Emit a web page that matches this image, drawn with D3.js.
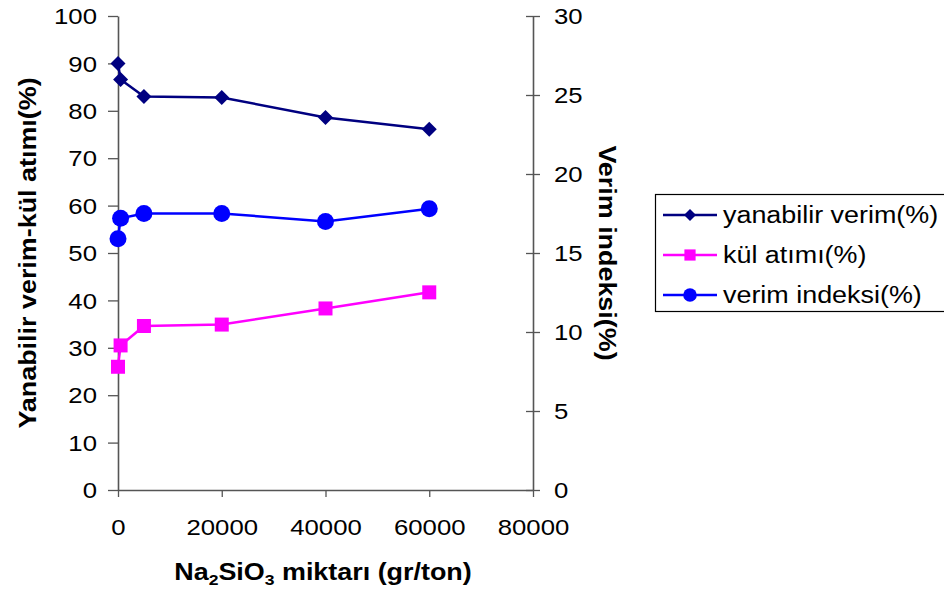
<!DOCTYPE html>
<html><head><meta charset="utf-8">
<script src="https://cdn.jsdelivr.net/npm/d3@7"></script>
<style>body{margin:0;background:#fff}svg{display:block}text{font-family:Arial,"Liberation Sans",sans-serif;fill:#000}</style>
</head><body>
<svg id="c" width="944" height="595"></svg>
<script>
const xValues = [0, 500, 5000, 20000, 40000, 60000];
const yanabilirVerim = [90.0, 86.6, 83.0, 82.8, 78.6, 76.1];
const kulAtimi = [26.0, 30.5, 34.6, 34.9, 38.3, 41.7];
const verimIndeksi = [15.9, 17.2, 17.5, 17.5, 17.0, 17.8];
const xTicks = [0, 20000, 40000, 60000, 80000];
const leftTicks = [0, 10, 20, 30, 40, 50, 60, 70, 80, 90, 100];
const rightTicks = [0, 5, 10, 15, 20, 25, 30];
const seriesNames = ["yanabilir verim(%)", "kül atımı(%)", "verim indeksi(%)"];

const S = 1.17; // horizontal text stretch
const svg = d3.select("#c");
const L = 118, R = 533, T = 16, B = 490;
const x = d3.scaleLinear().domain([0, 80000]).range([L, R]);
const yL = d3.scaleLinear().domain([0, 100]).range([B, T]);
const yR = d3.scaleLinear().domain([0, 30]).range([B, T]);
const axisColor = "#555";

function styleAxis(g){
  g.select(".domain").attr("stroke", axisColor).attr("stroke-width", 1.6);
  g.selectAll(".tick line").attr("stroke", axisColor).attr("stroke-width", 1.3);
  g.selectAll("text").attr("font-size", 22).attr("fill", "#000")
    .style("font-family", "Arial, 'Liberation Sans', sans-serif");
}

// bottom axis
const gx = svg.append("g").attr("transform", `translate(0,${B})`)
  .call(d3.axisBottom(x).tickValues(xTicks).tickSize(7).tickSizeOuter(0).tickFormat(d3.format("d")));
styleAxis(gx);
gx.selectAll("text").attr("y", 29).attr("dy", "0.71em").attr("transform", `scale(${S},1)`).attr("x", 0);
gx.selectAll(".tick").each(function(d){ d3.select(this).select("text").attr("transform", `scale(${S},1)`); });

// left axis
const gl = svg.append("g").attr("transform", `translate(${L},0)`)
  .call(d3.axisLeft(yL).tickValues(leftTicks).tickSize(10).tickSizeOuter(0));
styleAxis(gl);
gl.selectAll("text").attr("x", -21 / S).attr("dy", "0.35em").attr("transform", `scale(${S},1)`);

// right axis
const gr = svg.append("g").attr("transform", `translate(${R},0)`)
  .call(d3.axisRight(yR).tickValues(rightTicks).tickSize(7).tickSizeOuter(0));
styleAxis(gr);
gr.selectAll(".tick line").attr("x1", -7).attr("x2", 7);
gr.selectAll("text").attr("x", 21 / S).attr("dy", "0.35em").attr("transform", `scale(${S},1)`);

// series
const series = [
  {name: seriesNames[0], vals: yanabilirVerim, y: yL, color: "#000080", shape: "diamond"},
  {name: seriesNames[1], vals: kulAtimi, y: yL, color: "#FF00FF", shape: "square"},
  {name: seriesNames[2], vals: verimIndeksi, y: yR, color: "#0000FF", shape: "circle"}
];
function marker(g, shape, color, cx, cy, k){
  k = k || 1;
  if (shape === "diamond") {
    const r = 7.5 * k;
    g.append("path").attr("d", `M${cx},${cy-r}L${cx+r},${cy}L${cx},${cy+r}L${cx-r},${cy}Z`).attr("fill", color);
  } else if (shape === "square") {
    const h = 7 * k;
    g.append("rect").attr("x", cx-h).attr("y", cy-h).attr("width", 2*h).attr("height", 2*h).attr("fill", color);
  } else {
    g.append("circle").attr("cx", cx).attr("cy", cy).attr("r", 8.5 * k).attr("fill", color);
  }
}
series.forEach(s => {
  const pts = xValues.map((xv, i) => [x(xv), s.y(s.vals[i])]);
  svg.append("path").attr("d", d3.line()(pts)).attr("fill", "none")
    .attr("stroke", s.color).attr("stroke-width", 2.5);
  const g = svg.append("g");
  pts.forEach(p => marker(g, s.shape, s.color, p[0], p[1]));
});

// titles
svg.append("text").attr("transform", `translate(36,253) rotate(-90) scale(${S},1)`)
  .attr("text-anchor", "middle").attr("font-size", 23).attr("font-weight", "bold")
  .text("Yanabilir verim-kül atımı(%)");
svg.append("text").attr("transform", `translate(599,253) rotate(90) scale(${S},1)`)
  .attr("text-anchor", "middle").attr("font-size", 23).attr("font-weight", "bold")
  .text("Verim indeksi(%)");
const xt = svg.append("text").attr("transform", `translate(323,580) scale(${S},1)`)
  .attr("text-anchor", "middle").attr("font-size", 23).attr("font-weight", "bold");
xt.append("tspan").text("Na");
xt.append("tspan").attr("font-size", 15).attr("dy", 5).text("2");
xt.append("tspan").attr("dy", -5).text("SiO");
xt.append("tspan").attr("font-size", 15).attr("dy", 5).text("3");
xt.append("tspan").attr("dy", -5).text(" miktarı (gr/ton)");

// legend
const lg = svg.append("g");
lg.append("rect").attr("x", 655.5).attr("y", 194.5).attr("width", 300).attr("height", 117)
  .attr("fill", "#fff").attr("stroke", "#000").attr("stroke-width", 1.2);
series.forEach((s, i) => {
  const cy = 215 + i * 40;
  lg.append("line").attr("x1", 663).attr("x2", 717).attr("y1", cy).attr("y2", cy)
    .attr("stroke", s.color).attr("stroke-width", 2.5);
  marker(lg, s.shape, s.color, 690, cy, 0.8);
  lg.append("text").attr("transform", `translate(723,${cy}) scale(${S},1)`)
    .attr("dy", "0.35em").attr("font-size", 23).text(s.name);
});
</script>
</body></html>
